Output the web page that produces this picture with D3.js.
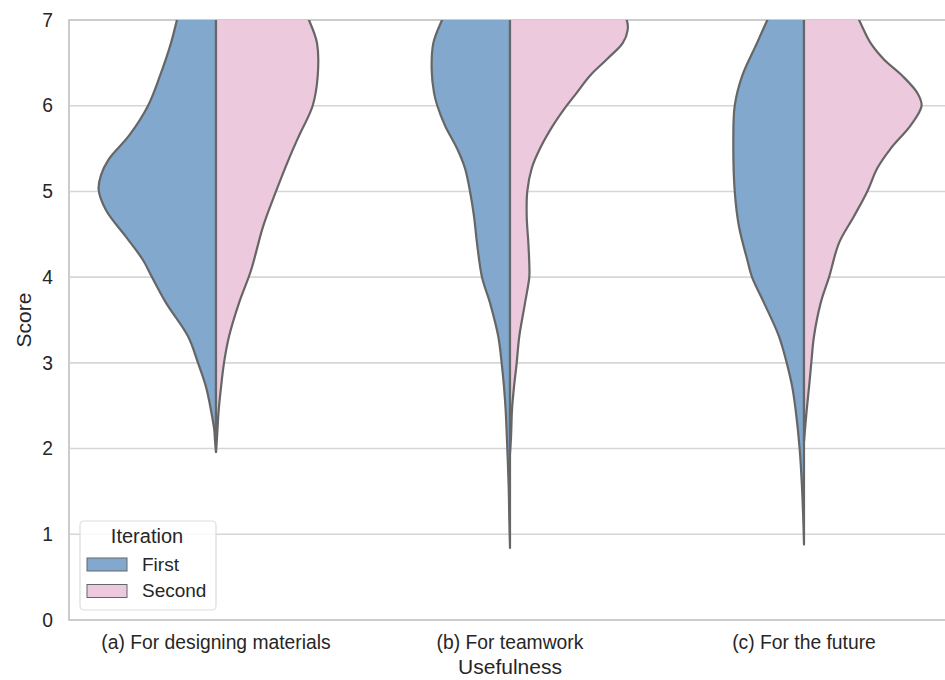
<!DOCTYPE html>
<html>
<head>
<meta charset="utf-8">
<script src="https://cdn.jsdelivr.net/npm/d3@7"></script>
<style>
  body { margin: 0; background: #fff; }
  text { font-family: "Liberation Sans", Arial, sans-serif; fill: #262626; }
</style>
</head>
<body>
<div id="chart"></div>
<script>
// categories and hue levels
const categories = ["(a) For designing materials", "(b) For teamwork", "(c) For the future"];
const iterations = ["First", "Second"];
const yTicks = [0, 1, 2, 3, 4, 5, 6, 7];

// density profiles: [score, relative density (1 = widest half)]
const firstA = [[1.96,0],[2.1,0.009],[2.21,0.014],[2.45,0.043],[2.72,0.085],[3.0,0.153],[3.31,0.238],[3.7,0.425],
  [4.0,0.544],[4.2,0.621],[4.47,0.765],[4.78,0.935],[5.02,0.998],[5.19,0.978],[5.38,0.91],[5.65,0.74],
  [6.0,0.578],[6.35,0.476],[6.73,0.383],[7.0,0.332],[7.3,0.272]];
const secondA = [[1.96,0],[2.14,0.009],[2.45,0.023],[2.72,0.043],[3.0,0.068],[3.31,0.111],[3.7,0.196],[4.08,0.298],
  [4.59,0.40],[5.0,0.51],[5.38,0.62],[5.65,0.706],[6.0,0.822],[6.35,0.865],[6.73,0.859],[7.0,0.79],[7.3,0.68]];
const firstB = [[0.84,0],[1.17,0.006],[1.55,0.011],[2.0,0.023],[2.45,0.037],[2.72,0.051],[3.0,0.071],[3.31,0.1],
  [3.7,0.17],[4.0,0.238],[4.4,0.281],[4.71,0.306],[5.0,0.34],[5.27,0.383],[5.5,0.45],[5.77,0.553],[6.0,0.618],
  [6.15,0.646],[6.42,0.666],[6.73,0.652],[7.0,0.578],[7.3,0.468]];
const secondB = [[1.94,0],[2.14,0.009],[2.45,0.017],[2.72,0.034],[3.0,0.057],[3.31,0.079],[3.7,0.128],[4.0,0.164],
  [4.16,0.164],[4.4,0.156],[4.71,0.142],[5.0,0.147],[5.27,0.185],[5.5,0.255],[5.77,0.366],[6.0,0.482],
  [6.15,0.567],[6.35,0.68],[6.54,0.822],[6.73,0.958],[6.88,1.0],[7.0,0.992],[7.3,0.81]];
const firstC = [[0.88,0],[1.17,0.006],[1.55,0.017],[2.0,0.037],[2.45,0.071],[2.72,0.1],[3.0,0.147],[3.31,0.213],
  [3.7,0.34],[4.0,0.442],[4.2,0.482],[4.59,0.553],[5.0,0.589],[5.58,0.601],[6.0,0.589],[6.35,0.525],
  [6.73,0.4],[7.0,0.312],[7.3,0.21]];
const secondC = [[2.08,0],[2.45,0.023],[2.72,0.043],[3.0,0.062],[3.31,0.085],[3.7,0.142],[4.0,0.213],[4.4,0.298],
  [4.71,0.425],[5.0,0.538],[5.27,0.623],[5.5,0.737],[5.77,0.907],[6.0,1.0],[6.15,0.963],[6.35,0.836],
  [6.54,0.68],[6.73,0.567],[7.0,0.468],[7.3,0.357]];

const profiles = [[firstA, secondA], [firstB, secondB], [firstC, secondC]];

const width = 945, height = 680;
const margin = {top: 20, right: -6, bottom: 60, left: 69};
const innerW = width - margin.left - margin.right;
const innerH = height - margin.top - margin.bottom;

const svg = d3.select("#chart").append("svg")
  .attr("width", width)
  .attr("height", height);

const g = svg.append("g")
  .attr("transform", `translate(${margin.left},${margin.top})`);

const x = d3.scaleBand().domain(categories).range([0, innerW]).padding(0);
const y = d3.scaleLinear().domain([0, 7]).range([innerH, 0]);
// seaborn width=0.8 -> each half is 0.4 of a band at the widest point
const w = d3.scaleLinear().domain([0, 1]).range([0, x.bandwidth() * 0.4]);
const color = d3.scaleOrdinal().domain(iterations).range(["#82a9cd", "#ecc9dc"]);

// grid
g.append("g")
  .selectAll("line")
  .data(yTicks)
  .join("line")
  .attr("x1", 0).attr("x2", innerW)
  .attr("y1", d => y(d)).attr("y2", d => y(d))
  .attr("stroke", "#d6d6d6")
  .attr("stroke-width", 1.6);

// spines
g.append("rect")
  .attr("x", 0).attr("y", 0)
  .attr("width", innerW).attr("height", innerH)
  .attr("fill", "none")
  .attr("stroke", "#cccccc")
  .attr("stroke-width", 2);

svg.append("clipPath").attr("id", "plot-clip")
  .append("rect")
  .attr("width", innerW).attr("height", innerH);

const violins = g.append("g").attr("clip-path", "url(#plot-clip)");

profiles.forEach((pair, ci) => {
  const cx = x(categories[ci]) + x.bandwidth() / 2;
  pair.forEach((prof, hi) => {
    const side = hi === 0 ? -1 : 1;
    const area = d3.area()
      .curve(d3.curveCatmullRom.alpha(0.5))
      .y(d => y(d[0]))
      .x0(cx)
      .x1(d => cx + side * w(d[1]));
    violins.append("path")
      .datum(prof)
      .attr("d", area)
      .attr("fill", color(iterations[hi]))
      .attr("stroke", "#666666")
      .attr("stroke-width", 2.2)
      .attr("stroke-linejoin", "round");
  });
});

// axes
const yAxis = g.append("g")
  .call(d3.axisLeft(y).tickValues(yTicks).tickFormat(d3.format("d")).tickSize(0).tickPadding(16));
yAxis.select(".domain").remove();
yAxis.selectAll("text").style("font-size", "19.3px").attr("fill", "#262626");

const xAxis = g.append("g")
  .attr("transform", `translate(0,${innerH})`)
  .call(d3.axisBottom(x).tickSize(0).tickPadding(15));
xAxis.select(".domain").remove();
xAxis.selectAll("text").style("font-size", "19.3px").attr("fill", "#262626");

svg.append("text")
  .attr("x", margin.left + x.bandwidth() * 1.5)
  .attr("y", 674)
  .attr("text-anchor", "middle")
  .style("font-size", "21px")
  .text("Usefulness");

svg.append("text")
  .attr("transform", `translate(31,${margin.top + innerH / 2}) rotate(-90)`)
  .attr("text-anchor", "middle")
  .style("font-size", "21px")
  .text("Score");

// legend
const legend = svg.append("g").attr("transform", "translate(80,521)");
legend.append("rect")
  .attr("width", 136).attr("height", 89).attr("rx", 4)
  .attr("fill", "#fff").attr("fill-opacity", 0.85)
  .attr("stroke", "#dddddd").attr("stroke-width", 1.2);
legend.append("text")
  .attr("x", 67).attr("y", 22)
  .attr("text-anchor", "middle")
  .style("font-size", "20px")
  .text("Iteration");
const items = legend.selectAll(".item")
  .data(iterations)
  .join("g")
  .attr("class", "item")
  .attr("transform", (d, i) => `translate(7,${37 + i * 26.5})`);
items.append("rect")
  .attr("width", 40).attr("height", 13)
  .attr("fill", d => color(d))
  .attr("stroke", "#666666").attr("stroke-width", 1);
items.append("text")
  .attr("x", 55).attr("y", 12.5)
  .style("font-size", "19px")
  .text(d => d);
</script>
</body>
</html>
